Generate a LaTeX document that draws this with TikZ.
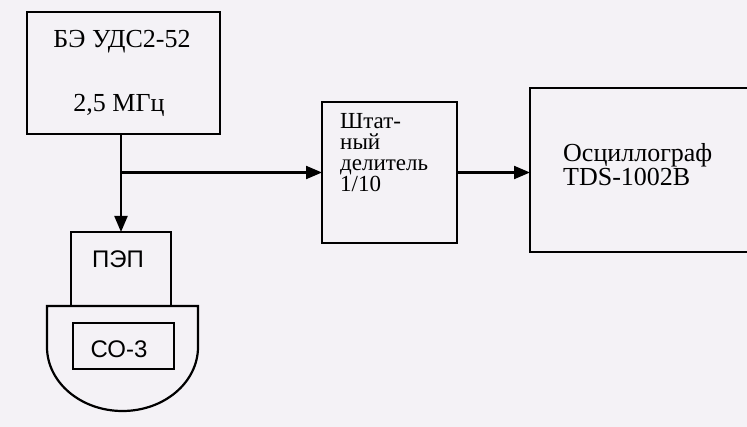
\documentclass[tikz,border=0pt]{standalone}
\usepackage{fontspec}
\setmainfont{Liberation Serif}
\newfontfamily\arialf{Liberation Sans}
\usetikzlibrary{arrows.meta}
\definecolor{bgc}{HTML}{F4F2F6}
\begin{document}
\begin{tikzpicture}[x=1pt,y=-1pt,
  blk/.style={draw=black,line width=2.2pt,inner sep=0pt,outer sep=0pt},
  conn/.style={line width=2.2pt,-{Triangle[length=16pt,width=13pt]}},
  txt/.style={font=\fontsize{26}{28}\selectfont,inner sep=0pt}]
\clip (0,0) rectangle (747,427);
\fill[bgc] (0,0) rectangle (747,427);
% BE block
\node[blk,minimum width=193pt,minimum height=122pt] (be) at (123.5,73) {};
\node[txt,anchor=base] (t1) at (122,48) {БЭ УДС2-52};
\node[txt,anchor=base] (t2) at (119,112) {2,5 МГц};
% PEP
\node[blk,minimum width=100pt,minimum height=74pt] (pep) at (121,269) {};
\node[font=\arialf\fontsize{24}{26}\selectfont,inner sep=0pt] (pept) at (118,259) {ПЭП};
% bowl
\draw[line width=2.2pt] (47,306) -- (198,306) -- (198,347)
   arc[start angle=0,end angle=180,x radius=75.5pt,y radius=-64pt] -- cycle;
\node[blk,minimum width=101pt,minimum height=46pt] (co) at (123.5,346) {};
\node[font=\arialf\fontsize{24}{26}\selectfont,inner sep=0pt] (cot) at (119,349) {СО-3};
% divider
\node[blk,minimum width=135pt,minimum height=141pt] (div) at (389.5,172.5) {};
\node[font=\fontsize{23}{21}\selectfont,align=left,anchor=base west,inner sep=0pt] (divt) at (340,192)
  {Штат-\\ный\\делитель\\1/10};
% oscilloscope
\node[blk,minimum width=260pt,minimum height=164pt] (osc) at (660,170) {};
\node[font=\fontsize{26}{24}\selectfont,align=left,anchor=base west,inner sep=0pt] (osct) at (563,186)
  {Осциллограф\\TDS-1002В};
% connectors
\coordinate (br) at (pep.north |- div.west);
\draw[conn] (be.south -| pep.north) -- (pep.north);
\draw[conn] (br) -- (div.west);
\draw[conn] (div.east) -- (div.east -| osc.west);
\end{tikzpicture}
\end{document}
